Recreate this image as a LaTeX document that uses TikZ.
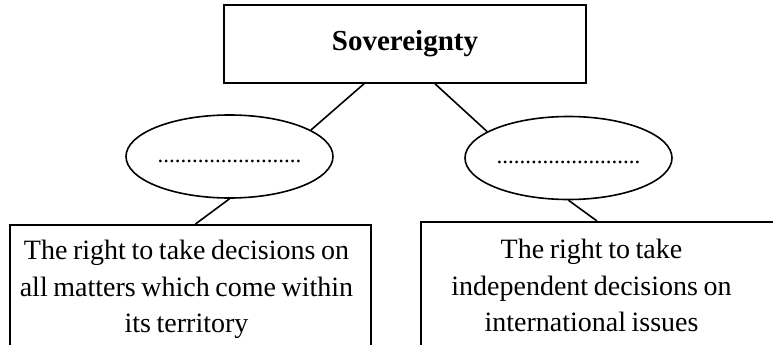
\documentclass[tikz,border=0pt]{standalone}
\usepackage{fontspec}
\setmainfont{Liberation Serif}
\usetikzlibrary{shapes.geometric,calc}
\newcommand\blurbfont{\fontsize{28}{36.5}\selectfont\spaceskip=0.2em plus 0.05em\relax}

\begin{document}
\begin{tikzpicture}[
  x=1pt, y=-1pt,
  topic/.style={rectangle, draw, line width=1.6pt, minimum width=362pt,
    minimum height=78pt, font=\fontsize{29}{34}\selectfont\bfseries},
  blank/.style={ellipse, draw, line width=1.6pt, minimum width=207pt,
    minimum height=83pt, inner sep=0pt, font=\fontsize{23}{28}\selectfont},
  frame/.style={rectangle, draw, line width=1.6pt, minimum width=361pt,
    minimum height=131pt, anchor=north},
  blurb/.style={align=center, inner sep=0pt, font=\blurbfont},
  link/.style={draw, line width=1.6pt},
]
  \useasboundingbox (0,0) rectangle (773,345);

  \node[topic] (sov) at (405,44) {Sovereignty};
  \node[blank] (lell) at (229.5,156.5) {\strut.........................};
  \node[blank] (rell) at (568.5,158) {\strut.........................};

  \node[frame] (lbox) at (190.5,224) {};
  \node[frame] (rbox) at (601.5,221) {};
  \node[blurb] (ltext) at (186.5,289) {\strut The right to take decisions on\\
    all matters which come within\\ its territory\strut};
  \node[blurb] (rtext) at (591.5,288) {\strut The right to take\\
    independent decisions on\\ international issues\strut};

  \draw[link] ($(sov.south)+(-41,0)$) -- (lell.18);
  \draw[link] ($(sov.south)+(30,0)$) -- (rell.162);
  \draw[link] (lell.south) -- ($(lbox.north)+(5,0)$);
  \draw[link] (rell.south) -- ($(rbox.north)+(-4.5,0)$);
\end{tikzpicture}
\end{document}
